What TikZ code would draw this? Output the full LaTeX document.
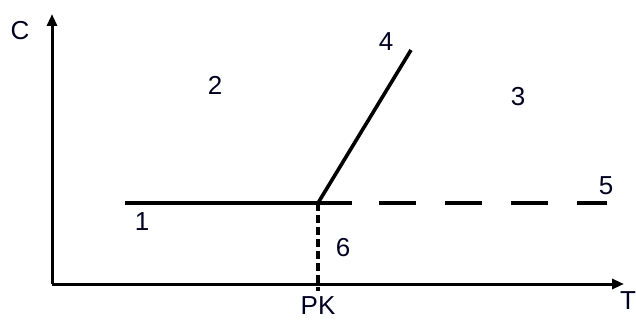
\documentclass[tikz,border=0pt]{standalone}
\usepackage{fontspec}
\setmainfont{Liberation Sans}
\usetikzlibrary{arrows.meta}
\begin{document}
\begin{tikzpicture}[x=1pt,y=-1pt,
  lbl/.style={font=\fontsize{26}{26}\selectfont, text=black!85!blue, inner sep=0pt},
  axis/.style={line width=3pt, -{Triangle[length=12pt,width=10pt]}},
  solidln/.style={line width=3.6pt},
  longdash/.style={line width=3.4pt, dash pattern=on 37pt off 29pt},
  shortdash/.style={line width=3.2pt, dash pattern=on 8pt off 4pt}]
\useasboundingbox (0,0) rectangle (636,323);
\coordinate (O) at (52,284);
\coordinate (Ytop) at (52,14);
\coordinate (Xend) at (624,284);
\coordinate (L1) at (125,203);
\coordinate (P) at (318,203);
\coordinate (S) at (352,203);
\coordinate (D1) at (379,203);
\coordinate (D2) at (607,203);
\coordinate (Q) at (411,50);
\coordinate (PKb) at (318,291);
\draw[axis] (O) -- (Ytop);
\draw[axis] (O) -- (Xend);
\draw[solidln] (L1) -- (S);
\draw[longdash] (D1) -- (D2);
\draw[solidln] (P) -- (Q);
\draw[shortdash] (P) -- (PKb);
\node[lbl] (c) at (20,31) {C};
\node[lbl] (n1) at (142,222) {1};
\node[lbl] (n2) at (215,85) {2};
\node[lbl] (n3) at (518,97) {3};
\node[lbl] (n4) at (386,42) {4};
\node[lbl] (n5) at (606,186) {5};
\node[lbl] (n6) at (343,248) {6};
\node[lbl] (pk) at (318,306) {PK};
\node[lbl] (t) at (628,301) {T};
\end{tikzpicture}
\end{document}
